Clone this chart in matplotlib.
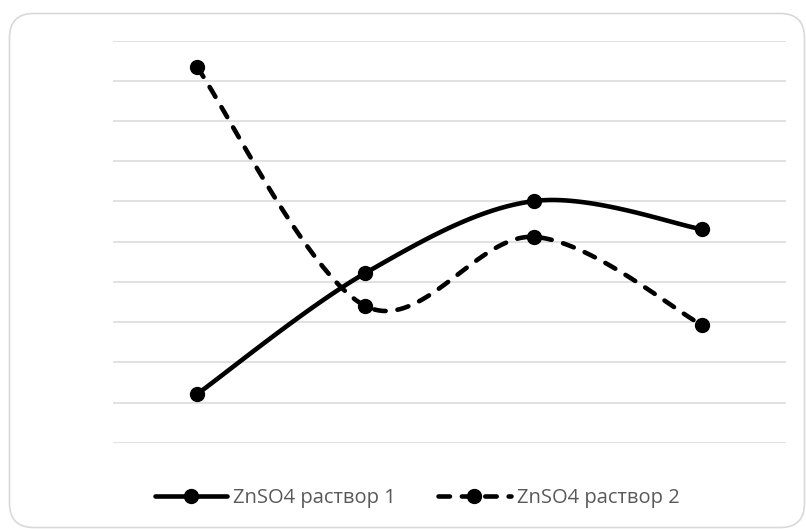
import matplotlib
matplotlib.use("Agg")
import matplotlib.pyplot as plt
from matplotlib.patches import FancyBboxPatch
from matplotlib.lines import Line2D
import numpy as np

categories = ["1", "2", "3", "4"]
series_names = ["ZnSO4 раствор 1", "ZnSO4 раствор 2"]
solution_1 = [1.21, 4.22, 6.01, 5.31]
solution_2 = [9.34, 3.40, 5.12, 2.93]


def smooth(xs, ys, n=40):
    # excel-like smoothing: bezier segments, catmull-rom control points
    xs = np.asarray(xs, float)
    ys = np.asarray(ys, float)
    px = np.concatenate([[xs[0]], xs, [xs[-1]]])
    py = np.concatenate([[ys[0]], ys, [ys[-1]]])
    t = np.linspace(0, 1, n)
    out_x, out_y = [], []
    for i in range(len(xs) - 1):
        p0 = np.array([px[i + 1], py[i + 1]])
        p3 = np.array([px[i + 2], py[i + 2]])
        c1 = p0 + (p3 - np.array([px[i], py[i]])) / 6.0
        c2 = p3 - (np.array([px[i + 3], py[i + 3]]) - p0) / 6.0
        pts = ((1 - t) ** 3)[:, None] * p0 + (3 * (1 - t) ** 2 * t)[:, None] * c1 \
            + (3 * (1 - t) * t ** 2)[:, None] * c2 + (t ** 3)[:, None] * p3
        out_x.extend(pts[:, 0])
        out_y.extend(pts[:, 1])
    return np.array(out_x), np.array(out_y)


W, H = 806, 529
fig = plt.figure(figsize=(W / 100, H / 100), dpi=100)

# chart area border
border = FancyBboxPatch((9.5 / W, 1.5 / H), (W - 11) / W, (H - 15) / H,
                        boxstyle="round,pad=0,rounding_size=0.03",
                        transform=fig.transFigure, facecolor="none",
                        edgecolor="#d9d9d9", linewidth=1.2, mutation_aspect=W / H,
                        zorder=-1)
fig.patches.append(border)

ax = fig.add_axes([113 / W, (H - 442.7) / H, (786 - 113) / W, (442.7 - 40.7) / H])
ax.set_facecolor("none")
ax.set_xlim(-0.5, 3.5)
ax.set_ylim(0, 10)
ax.set_yticks(np.arange(0, 11, 1))
ax.set_xticks([])
ax.tick_params(left=False, labelleft=False)
ax.grid(axis="y", color="#d9d9d9", linewidth=1.1)
for s in ax.spines.values():
    s.set_visible(False)

x = np.arange(len(categories))
lw = 3.3
ms = 10
dash = (2.5, 2.6)

sx, sy = smooth(x, solution_1)
ax.plot(sx, sy, color="black", lw=lw, solid_capstyle="round", zorder=3)
ax.plot(x, solution_1, "o", color="black", ms=ms, zorder=4)

sx, sy = smooth(x, solution_2)
ax.plot(sx, sy, color="black", lw=lw, dashes=dash, dash_capstyle="round", zorder=3)
ax.plot(x, solution_2, "o", color="black", ms=ms, zorder=4)

handles = [
    Line2D([], [], color="black", lw=lw, marker="o", ms=ms, solid_capstyle="round"),
    Line2D([], [], color="black", lw=lw, dashes=dash, dash_capstyle="round",
           marker="o", ms=ms),
]
fig.legend(handles, series_names, loc="center", bbox_to_anchor=(417 / W, 1 - 498 / H),
           ncol=2, frameon=False, handlelength=3.6, handletextpad=0.3,
           columnspacing=2.1, labelcolor="#595959",
           prop={"family": ["Open Sans", "DejaVu Sans"], "size": 14.5})

fig.savefig("out.png", dpi=100)
